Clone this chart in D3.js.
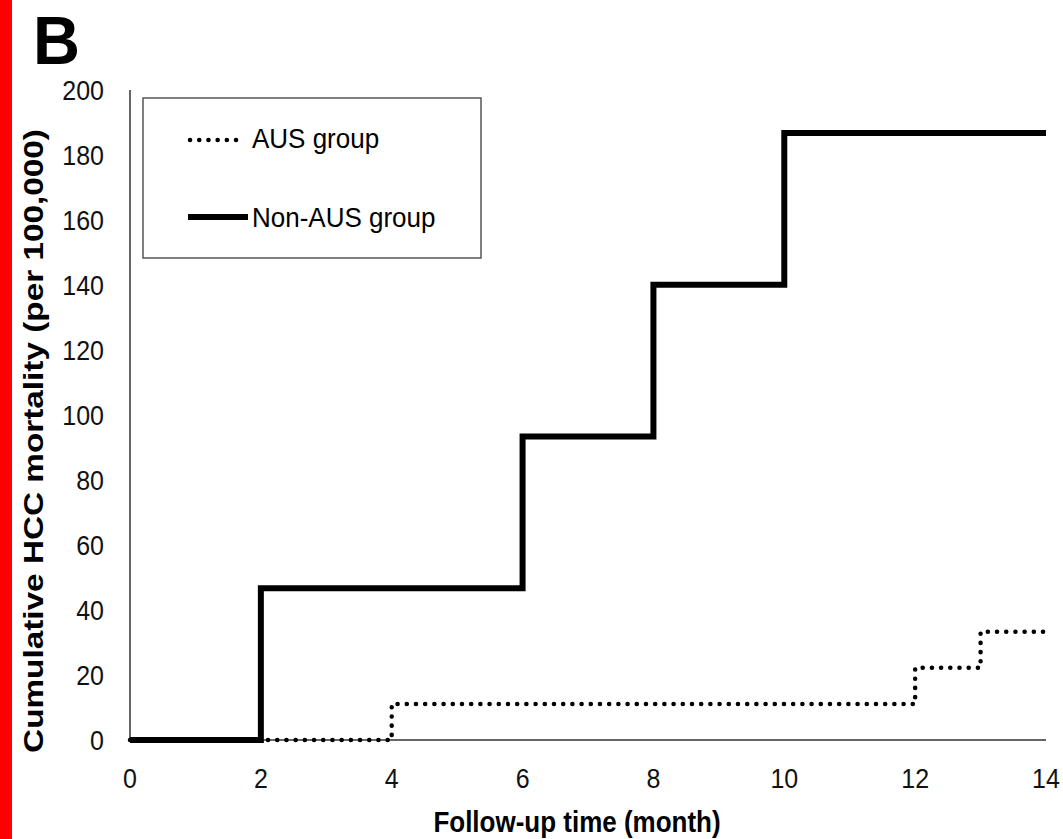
<!DOCTYPE html>
<html>
<head>
<meta charset="utf-8">
<script src="https://cdn.jsdelivr.net/npm/d3@7"></script>
<style>
  body { margin: 0; background: #fff; }
  svg text { font-family: "Liberation Sans", Arial, sans-serif; }
</style>
</head>
<body>
<svg id="chart" width="1063" height="839"></svg>
<script>
// data
var xTicks = [0, 2, 4, 6, 8, 10, 12, 14];
var yTicks = [0, 20, 40, 60, 80, 100, 120, 140, 160, 180, 200];
var ausMonths = [0, 4, 12, 13, 14];
var ausValues = [0, 11.1, 22.2, 33.3, 33.3];
var nonAusMonths = [0, 2, 6, 8, 10, 14];
var nonAusValues = [0, 46.7, 93.4, 140.1, 186.8, 186.8];

var svg = d3.select("#chart");

// red strip on the left edge
svg.append("rect").attr("x", 0).attr("y", 0).attr("width", 12).attr("height", 839).attr("fill", "#ff0000");

// panel letter (figure text is a bit stretched vertically)
svg.append("text")
  .attr("transform", "translate(33,64) scale(1.05,1.12)")
  .attr("font-size", 62).attr("font-weight", "bold")
  .text("B");

var x = d3.scaleLinear().domain([0, 14]).range([130, 1046]);
var y = d3.scaleLinear().domain([0, 200]).range([740, 90]);

// axis lines, no tick marks
svg.append("line")
  .attr("x1", x(0)).attr("x2", x(0)).attr("y1", y(200)).attr("y2", y(0))
  .attr("stroke", "#666").attr("stroke-width", 2);
svg.append("line")
  .attr("x1", x(0)).attr("x2", x(14)).attr("y1", y(0)).attr("y2", y(0))
  .attr("stroke", "#666").attr("stroke-width", 2);

svg.selectAll("text.ytick").data(yTicks).enter()
  .append("text").attr("class", "ytick")
  .attr("transform", function(d) { return "translate(104," + (y(d) + 10) + ") scale(1,1.07)"; })
  .attr("text-anchor", "end").attr("font-size", 25).attr("fill", "#111")
  .text(function(d) { return d; });

svg.selectAll("text.xtick").data(xTicks).enter()
  .append("text").attr("class", "xtick")
  .attr("transform", function(d) { return "translate(" + x(d) + ",788) scale(1,1.07)"; })
  .attr("text-anchor", "middle").attr("font-size", 25).attr("fill", "#111")
  .text(function(d) { return d; });

// axis titles
svg.append("text")
  .attr("transform", "translate(577,832) scale(1,1.15)")
  .attr("text-anchor", "middle").attr("font-size", 26).attr("font-weight", "bold")
  .text("Follow-up time (month)");

svg.append("text")
  .attr("transform", "translate(43,441) rotate(-90) scale(1.19,1)")
  .attr("text-anchor", "middle").attr("font-size", 28).attr("font-weight", "bold")
  .text("Cumulative HCC mortality (per 100,000)");

var step = d3.line()
  .x(function(d) { return x(d[0]); })
  .y(function(d) { return y(d[1]); })
  .curve(d3.curveStepAfter);

svg.append("path")
  .datum(d3.zip(ausMonths, ausValues))
  .attr("d", step).attr("fill", "none")
  .attr("stroke", "#000").attr("stroke-width", 4.5)
  .attr("stroke-linecap", "round")
  .attr("stroke-dasharray", "0.1 9.1");

svg.append("path")
  .datum(d3.zip(nonAusMonths, nonAusValues))
  .attr("d", step).attr("fill", "none")
  .attr("stroke", "#000").attr("stroke-width", 6);

// legend
var legend = svg.append("g");
legend.append("rect")
  .attr("x", 143).attr("y", 98).attr("width", 338).attr("height", 160)
  .attr("fill", "#fff").attr("stroke", "#555").attr("stroke-width", 1.5);
legend.append("line")
  .attr("x1", 190).attr("x2", 243).attr("y1", 140).attr("y2", 140)
  .attr("stroke", "#000").attr("stroke-width", 4.5)
  .attr("stroke-linecap", "round").attr("stroke-dasharray", "0.1 9.1");
legend.append("text")
  .attr("transform", "translate(252,148) scale(1,1.07)").attr("font-size", 26)
  .text("AUS group");
legend.append("line")
  .attr("x1", 188).attr("x2", 248).attr("y1", 217).attr("y2", 217)
  .attr("stroke", "#000").attr("stroke-width", 6);
legend.append("text")
  .attr("transform", "translate(252,227) scale(1,1.07)").attr("font-size", 26)
  .text("Non-AUS group");
</script>
</body>
</html>
